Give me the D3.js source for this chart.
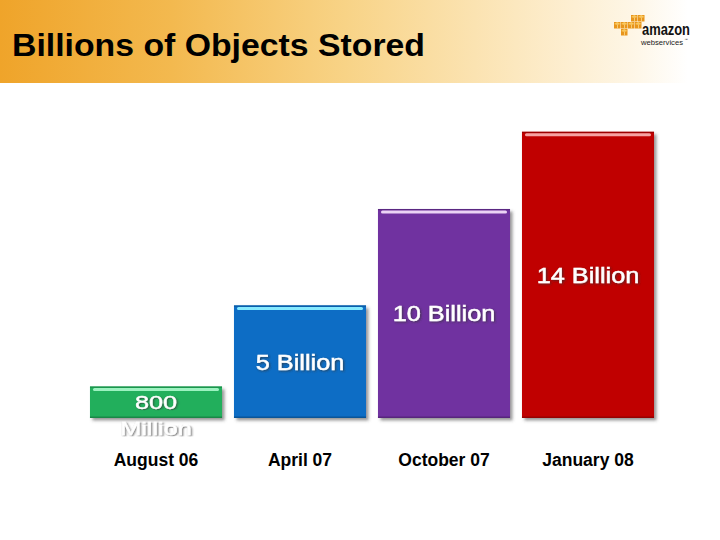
<!DOCTYPE html>
<html>
<head>
<meta charset="utf-8">
<script src="https://cdn.jsdelivr.net/npm/d3@7"></script>
<style>
  html, body { margin: 0; padding: 0; background: #fff; }
  svg { display: block; }
</style>
</head>
<body>
<svg id="chart" width="720" height="540"></svg>
<script>
// ---- data ----
const title = "Billions of Objects Stored";
const categories = ["August 06", "April 07", "October 07", "January 08"];
const values = [0.8, 5, 10, 14]; // billions of objects
const valueLabels = [["800", "Million"], ["5 Billion"], ["10 Billion"], ["14 Billion"]];
const barColors = ["#20AF5B", "#0B6DC5", "#7030A0", "#C00000"];
const barHighlights = ["#9CF2C0", "#86EAFF", "#EBD3F5", "#F5A3A3"];

// ---- setup ----
const W = 720, H = 540;
const svg = d3.select("#chart");
const defs = svg.append("defs");

const grad = defs.append("linearGradient").attr("id", "hdr").attr("x1", "0").attr("x2", "1").attr("y1", "0").attr("y2", "0");
[[0, "#EFA42A"], [0.25, "#F3B94F"], [0.5, "#F8D386"], [0.75, "#FCE8BF"], [0.92, "#FEF6E6"], [1, "#FFFFFF"]]
  .forEach(([o, c]) => grad.append("stop").attr("offset", o).attr("stop-color", c));

const shadow = defs.append("filter").attr("id", "barShadow").attr("x", "-10%").attr("y", "-10%").attr("width", "130%").attr("height", "130%");
shadow.append("feDropShadow").attr("dx", 2.5).attr("dy", 2.5).attr("stdDeviation", 1.6)
  .attr("flood-color", "#444").attr("flood-opacity", 0.55);

const tshadow = defs.append("filter").attr("id", "txtShadow").attr("x", "-20%").attr("y", "-40%").attr("width", "140%").attr("height", "180%");
tshadow.append("feDropShadow").attr("dx", 1).attr("dy", 1).attr("stdDeviation", 0.9)
  .attr("flood-color", "#333").attr("flood-opacity", 0.7);

// header band
svg.append("rect").attr("x", 0).attr("y", 0).attr("width", 688).attr("height", 83).attr("fill", "url(#hdr)");

svg.append("text")
  .attr("x", 12).attr("y", 56)
  .attr("font-family", "'Liberation Sans', Arial, sans-serif")
  .attr("font-weight", "bold").attr("font-size", 32)
  .attr("textLength", 413).attr("lengthAdjust", "spacingAndGlyphs")
  .attr("fill", "#000")
  .text(title);

// amazon web services logo (decorative)
const logo = svg.append("g").attr("class", "logo");
const cubes = [[631, 15], [638, 15], [614, 22], [621, 22], [628, 22], [635, 22], [621, 29]];
cubes.forEach(([cx, cy]) => {
  logo.append("rect").attr("x", cx).attr("y", cy).attr("width", 6.5).attr("height", 6.5).attr("fill", "#E8951C");
  logo.append("path").attr("d", `M${cx},${cy + 2}L${cx + 3.25},${cy}L${cx + 6.5},${cy + 2}L${cx + 3.25},${cy + 3}Z`).attr("fill", "#F9C860");
  logo.append("rect").attr("x", cx + 3).attr("y", cy + 3).attr("width", 0.8).attr("height", 3.5).attr("fill", "#FBD98C");
});
logo.append("text").attr("x", 642).attr("y", 34.5)
  .attr("font-family", "'Liberation Sans', Arial, sans-serif").attr("font-weight", "bold")
  .attr("font-size", 16).attr("textLength", 48).attr("lengthAdjust", "spacingAndGlyphs")
  .attr("fill", "#111").text("amazon");
logo.append("text").attr("x", 641).attr("y", 45)
  .attr("font-family", "'Liberation Sans', Arial, sans-serif")
  .attr("font-size", 8).attr("textLength", 42).attr("lengthAdjust", "spacingAndGlyphs")
  .attr("fill", "#222").text("webservices");
logo.append("text").attr("x", 684.5).attr("y", 41)
  .attr("font-family", "'Liberation Sans', Arial, sans-serif")
  .attr("font-size", 3.5).attr("fill", "#222").text("™");

// ---- scales ----
const x = d3.scaleBand().domain(categories).range([84, 660]).paddingInner(0.083).paddingOuter(0.0415);
const y = d3.scaleLinear().domain([-0.83, 14.3]).range([418, 126]);
const base = y.range()[0];

const data = categories.map((c, i) => ({
  cat: c, value: values[i], label: valueLabels[i], color: barColors[i], hi: barHighlights[i]
}));

const bars = svg.append("g").selectAll("g.bar").data(data).join("g").attr("class", "bar");

bars.append("rect")
  .attr("x", d => x(d.cat)).attr("y", d => y(d.value))
  .attr("width", x.bandwidth()).attr("height", d => base - y(d.value))
  .attr("fill", d => d.color)
  .attr("filter", "url(#barShadow)");

// darker top & bottom edges
bars.append("rect")
  .attr("x", d => x(d.cat)).attr("y", d => y(d.value))
  .attr("width", x.bandwidth()).attr("height", 1.2)
  .attr("fill", d => d3.color(d.color).darker(0.6));
bars.append("rect")
  .attr("x", d => x(d.cat)).attr("y", base - 1.5)
  .attr("width", x.bandwidth()).attr("height", 1.5)
  .attr("fill", d => d3.color(d.color).darker(0.7));

// top highlight stripe
bars.append("rect")
  .attr("x", d => x(d.cat) + 3).attr("y", d => y(d.value) + 1.5)
  .attr("width", x.bandwidth() - 6).attr("height", 3)
  .attr("rx", 1.5)
  .attr("fill", d => d.hi);

// value labels
const labelFont = 22, capH = labelFont * 0.716, lineGap = 26;
bars.each(function(d) {
  const g = d3.select(this);
  const top = y(d.value);
  const h = base - top;
  const cx = x(d.cat) + x.bandwidth() / 2;
  const cy = (top + base) / 2;
  const sy = Math.min(1, h / 38);
  const sx = 1.15;
  const firstBase = cy + capH * sy / 2;
  d.label.forEach((line, li) => {
    g.append("text")
      .attr("transform", `translate(${cx},${firstBase + li * lineGap}) scale(${sx},${sy})`)
      .attr("text-anchor", "middle")
      .attr("font-family", "'Liberation Sans', Arial, sans-serif")
      .attr("font-size", labelFont)
      .attr("fill", "#fff")
      .attr("stroke", "#fff").attr("stroke-width", 0.45)
      .attr("filter", "url(#txtShadow)")
      .text(line);
  });
});

// category axis labels
svg.append("g").selectAll("text.cat").data(categories).join("text")
  .attr("class", "cat")
  .attr("x", d => x(d) + x.bandwidth() / 2).attr("y", 466)
  .attr("text-anchor", "middle")
  .attr("font-family", "'Liberation Sans', Arial, sans-serif")
  .attr("font-weight", "bold").attr("font-size", 17.5)
  .attr("fill", "#000")
  .text(d => d);
</script>
</body>
</html>
